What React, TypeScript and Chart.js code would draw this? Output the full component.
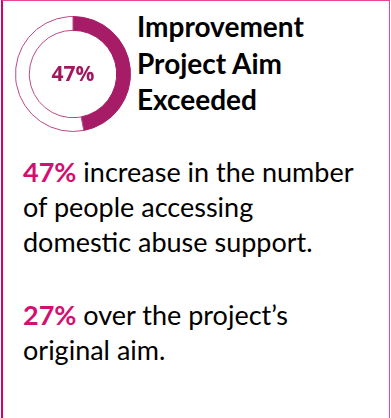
import React, { useEffect, useRef } from "react";
import { Chart, registerables } from "chart.js";

Chart.register(...registerables);

const segmentLabels = ["Achieved", "Remaining"];
const segmentValues = [47, 53];
const centerLabel = "47%";
const titleLines = ["Improvement", "Project Aim", "Exceeded"];
const para1Highlight = "47%";
const para1Lines = [" increase in the number", "of people accessing", "domestic abuse support."];
const para2Highlight = "27%";
const para2Lines = [" over the project’s", "original aim."];

const ARC = "#A71C66";
const PINK = "#D3106F";
const FONT = "Lato, 'Open Sans', sans-serif";

export default function App() {
  const ref = useRef<HTMLCanvasElement>(null);
  useEffect(() => {
    const chart = new Chart(ref.current!, {
      type: "doughnut",
      data: {
        labels: segmentLabels,
        datasets: [
          {
            data: segmentValues,
            backgroundColor: [ARC, "#FFFFFF"],
            borderColor: [ARC, "#B84A84"],
            borderWidth: 1,
          },
        ],
      },
      options: {
        responsive: false,
        animation: false,
        cutout: "76%",
        plugins: { legend: { display: false }, tooltip: { enabled: false } },
        layout: { padding: 0 },
      },
    });
    return () => chart.destroy();
  }, []);

  const lineStyle: React.CSSProperties = { whiteSpace: "pre", height: 35 };
  return (
    <div
      style={{
        position: "fixed",
        left: 0,
        top: 0,
        width: 391,
        height: 418,
        background: "#fff",
        overflow: "hidden",
        fontFamily: FONT,
        color: "#000",
      }}
    >
      <div
        style={{
          position: "absolute",
          left: 1,
          top: 0,
          width: 389,
          height: 430,
          boxSizing: "border-box",
          borderLeft: "2px solid #D4006E",
          borderTop: "1px solid #E64597",
          borderRight: "1px solid #E64597",
        }}
      />
      <canvas
        ref={ref}
        width={116}
        height={116}
        style={{ position: "absolute", left: 15, top: 16, width: 116, height: 116 }}
      />
      <div
        style={{
          position: "absolute",
          left: 15,
          top: 62,
          width: 116,
          textAlign: "center",
          fontFamily: "'Open Sans', Lato, sans-serif",
          fontWeight: 700,
          fontSize: 21,
          lineHeight: "22px",
          color: "#A0195F",
        }}
      >
        {centerLabel}
      </div>
      <div
        style={{
          position: "absolute",
          left: 137,
          top: 8,
          fontWeight: 700,
          fontSize: 28,
          lineHeight: "36.5px",
          whiteSpace: "pre",
        }}
      >
        {titleLines.map((t, i) => (
          <div key={i}>{t}</div>
        ))}
      </div>
      <div style={{ position: "absolute", left: 23, top: 154, fontSize: 27, lineHeight: "35px" }}>
        {para1Lines.map((t, i) => (
          <div key={i} style={lineStyle}>
            {i === 0 && <span style={{ color: PINK, fontWeight: 700 }}>{para1Highlight}</span>}
            {t}
          </div>
        ))}
      </div>
      <div style={{ position: "absolute", left: 23, top: 297, fontSize: 27, lineHeight: "35px" }}>
        {para2Lines.map((t, i) => (
          <div key={i} style={lineStyle}>
            {i === 0 && <span style={{ color: PINK, fontWeight: 700 }}>{para2Highlight}</span>}
            {t}
          </div>
        ))}
      </div>
    </div>
  );
}
